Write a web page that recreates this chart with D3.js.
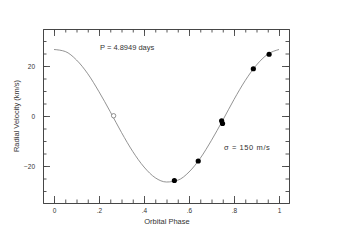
<!DOCTYPE html>
<html>
<head>
<meta charset="utf-8">
<script src="https://cdn.jsdelivr.net/npm/d3@7"></script>
<style>
body { margin:0; background:#fff; }
text { font-family: "Liberation Sans", Arial, sans-serif; fill:#333; }
</style>
</head>
<body>
<svg width="339" height="240"></svg>
<script>
// fitted curve, every 0.05 in phase
var curvePhase = [0,0.05,0.1,0.15,0.2,0.25,0.3,0.35,0.4,0.45,0.5,0.55,0.6,0.65,0.7,0.75,0.8,0.85,0.9,0.95,1];
var curveVel = [26.6,25.8,22.4,16.9,9.7,1.7,-6.6,-14.2,-20.4,-24.7,-26.4,-25.7,-22.4,-16.9,-9.7,-1.7,6.6,14.2,20.4,24.7,26.6];
// observations
var obsPhase = [0.535,0.641,0.745,0.749,0.886,0.956];
var obsVel = [-25.8,-18.0,-1.9,-3.0,18.9,24.7];
var openPhase = [0.265];
var openVel = [0.1];
var xTicks = [0,0.2,0.4,0.6,0.8,1];
var xTickLabels = ["0",".2",".4",".6",".8","1"];
var yTicks = [-20,0,20];

var svg = d3.select("svg");
var pLeft = 43, pRight = 289, pTop = 29, pBottom = 203;
// phase 0 sits at 54, phase 1 at 279
var x = d3.scaleLinear().domain([(pLeft-54)/225, (pRight-54)/225]).range([pLeft,pRight]);
var y = d3.scaleLinear().domain([-34.8,34.8]).range([pBottom,pTop]);

var axisCol = "#444";
function addAxis(ax, tr){
	var g = svg.append("g").attr("transform", tr).call(ax);
	g.select(".domain").attr("stroke", axisCol).attr("stroke-width", 0.9);
	g.selectAll("line").attr("stroke", axisCol).attr("stroke-width", 0.9);
	g.selectAll("text").attr("font-size", 6.5).style("fill", "#333");
	return g;
}
var minorX = d3.range(0, 1.001, 0.05);
var minorY = d3.range(-30, 31, 5);
addAxis(d3.axisBottom(x).tickValues(minorX).tickSize(-3.5).tickFormat("").tickSizeOuter(0), "translate(0,"+pBottom+")");
addAxis(d3.axisTop(x).tickValues(minorX).tickSize(-3.5).tickFormat("").tickSizeOuter(0), "translate(0,"+pTop+")");
addAxis(d3.axisLeft(y).tickValues(minorY).tickSize(-3.5).tickFormat("").tickSizeOuter(0), "translate("+pLeft+",0)");
addAxis(d3.axisRight(y).tickValues(minorY).tickSize(-3.5).tickFormat("").tickSizeOuter(0), "translate("+pRight+",0)");
addAxis(d3.axisBottom(x).tickValues(xTicks).tickSize(-7).tickPadding(5).tickFormat(function(d,i){return xTickLabels[i];}).tickSizeOuter(0), "translate(0,"+pBottom+")");
addAxis(d3.axisTop(x).tickValues(xTicks).tickSize(-7).tickFormat("").tickSizeOuter(0), "translate(0,"+pTop+")");
addAxis(d3.axisLeft(y).tickValues(yTicks).tickSize(-7).tickPadding(8).tickFormat(d3.format("d")).tickSizeOuter(0), "translate("+pLeft+",0)");
addAxis(d3.axisRight(y).tickValues(yTicks).tickSize(-7).tickFormat("").tickSizeOuter(0), "translate("+pRight+",0)");

var line = d3.line().x(function(d){return x(d[0]);}).y(function(d){return y(d[1]);}).curve(d3.curveMonotoneX);
svg.append("path").datum(d3.zip(curvePhase, curveVel))
	.attr("d", line).attr("fill","none").attr("stroke","#777").attr("stroke-width",0.8);

svg.selectAll("circle.obs").data(d3.zip(obsPhase, obsVel)).enter().append("circle")
	.attr("class","obs").attr("cx",function(d){return x(d[0]);}).attr("cy",function(d){return y(d[1]);})
	.attr("r",2.6).attr("fill","#000");
svg.selectAll("circle.open").data(d3.zip(openPhase, openVel)).enter().append("circle")
	.attr("class","open").attr("cx",function(d){return x(d[0]);}).attr("cy",function(d){return y(d[1]);})
	.attr("r",2.2).attr("fill","#fff").attr("stroke","#666").attr("stroke-width",0.7);

svg.append("text").attr("x",100).attr("y",50).attr("font-size",7.5).text("P = 4.8949 days");
svg.append("text").attr("x",224).attr("y",150).attr("font-size",7.5).attr("letter-spacing",0.6).text("\u03c3 = 150 m/s");
svg.append("text").attr("x",167).attr("y",224).attr("font-size",7.5).attr("text-anchor","middle").text("Orbital Phase");
svg.append("text").attr("transform","translate(19,116) rotate(-90)").attr("font-size",7.5).attr("text-anchor","middle").text("Radial Velocity (km/s)");
</script>
</body>
</html>
